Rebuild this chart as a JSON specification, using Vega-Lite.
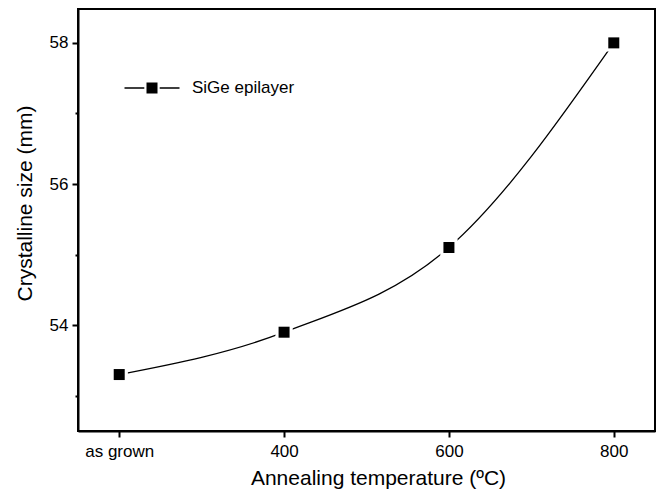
{
  "$schema": "https://vega.github.io/schema/vega-lite/v6.json",
  "width": 577,
  "height": 422,
  "padding": {"left": 78, "top": 9, "right": 7, "bottom": 68},
  "autosize": {"type": "none"},
  "background": "white",
  "config": {
    "font": "Liberation Sans",
    "view": {"stroke": "black", "strokeWidth": 2},
    "axis": {
      "domainColor": "black", "domainWidth": 2,
      "tickColor": "black", "tickWidth": 2, "tickSize": 6,
      "labelColor": "black", "labelFontSize": 17, "labelFont": "Liberation Sans",
      "titleColor": "black", "titleFontSize": 21, "titleFontWeight": "normal", "titleFont": "Liberation Sans",
      "grid": false
    }
  },
  "data": {
    "values": [
      {"temp": 200, "size": 53.3, "series": "SiGe epilayer"},
      {"temp": 400, "size": 53.9, "series": "SiGe epilayer"},
      {"temp": 600, "size": 55.1, "series": "SiGe epilayer"},
      {"temp": 800, "size": 58.0, "series": "SiGe epilayer"}
    ]
  },
  "encoding": {
    "x": {
      "field": "temp", "type": "quantitative",
      "scale": {"domain": [150, 850], "nice": false, "zero": false},
      "axis": {
        "values": [200, 400, 600, 800],
        "labelExpr": "datum.value == 200 ? 'as grown' : datum.label",
        "title": "Annealing temperature (ºC)",
        "titleX": 300, "titleAlign": "center",
        "labelPadding": 6, "titlePadding": 8, "labelFlush": false
      }
    },
    "y": {
      "field": "size", "type": "quantitative",
      "scale": {"domain": [52.5, 58.48], "nice": false, "zero": false},
      "axis": {
        "values": [53, 54, 55, 56, 57, 58],
        "labelExpr": "datum.value % 2 == 0 ? datum.label : ''",
        "tickSize": {"condition": {"test": "datum.value % 2 == 1", "value": 3}, "value": 6},
        "title": "Crystalline size (mm)",
        "titleY": 194,
        "labelPadding": 4, "titlePadding": 14, "labelFlush": false
      }
    }
  },
  "layer": [
    {
      "mark": {"type": "line", "interpolate": "monotone", "color": "black", "strokeWidth": 1.3}
    },
    {
      "mark": {"type": "point", "shape": "square", "filled": true, "size": 300, "opacity": 1, "color": "white"}
    },
    {
      "mark": {"type": "point", "shape": "square", "filled": true, "size": 121, "opacity": 1},
      "encoding": {
        "color": {
          "field": "series", "type": "nominal",
          "scale": {"range": ["black"]},
          "legend": {
            "title": null, "orient": "none", "legendX": 63, "legendY": 68,
            "symbolType": "M-2.5,-0.06H-0.7V0.06H-2.5ZM0.7,-0.06H2.5V0.06H0.7ZM-0.5,-0.5H0.5V0.5H-0.5Z",
            "symbolSize": 484, "symbolStrokeWidth": 0,
            "symbolFillColor": "black", "symbolStrokeColor": "black",
            "labelFontSize": 17, "labelColor": "black", "labelOffset": 29
          }
        }
      }
    }
  ]
}
